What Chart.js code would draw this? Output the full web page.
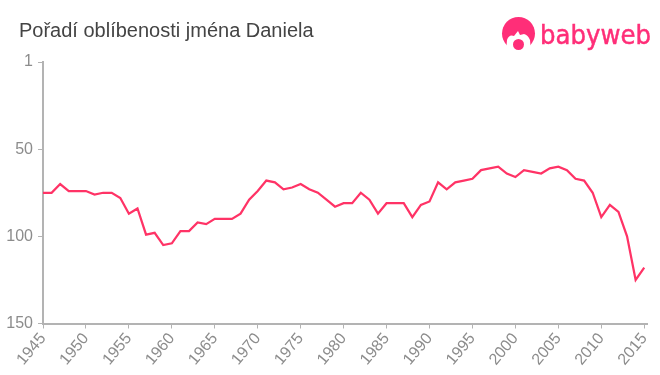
<!DOCTYPE html>
<html>
<head>
<meta charset="utf-8">
<style>
  html, body { margin: 0; padding: 0; background: #fff; }
  #wrap { position: relative; width: 660px; height: 375px; overflow: hidden; }
  #logo { position: absolute; left: 0; top: 0; }
  #title { position: absolute; left: 19px; top: 18px; font: 20px/24px "Liberation Sans", sans-serif; color: #444; white-space: nowrap; }
</style>
</head>
<body>
<div id="wrap">
  <canvas id="rankChart" width="660" height="375"></canvas>
  <div id="title">Pořadí oblíbenosti jména Daniela</div>
  <svg id="logo" width="660" height="60">
    <circle cx="518.5" cy="33.5" r="16.5" fill="#ff2e78"/>
    <path d="M506 52 L507 40 Q509 34 514 36 L518 31 L520 35 L524 34 Q528 35 530 40 L531 52 Z" fill="#fff"/>
    <circle cx="518.5" cy="44.5" r="5.5" fill="#ff2e78"/>
    <text x="540" y="43.5" font-family="DejaVu Sans" font-size="27" fill="#ff2e78" stroke="#ff2e78" stroke-width="0.5" textLength="111" lengthAdjust="spacingAndGlyphs">babyweb</text>
  </svg>
</div>
<script src="https://cdn.jsdelivr.net/npm/chart.js@4"></script>
<script>
const years = [];
for (let y = 1945; y <= 2015; y++) years.push(y);

// rank, 1945-2015
const ranks = [
  75, 75, 70, 74, 74, 74, 76, 75, 75, 78,
  87, 84, 99, 98, 105, 104, 97, 97, 92, 93,
  90, 90, 90, 87, 79, 74, 68, 69, 73, 72,
  70, 73, 75, 79, 83, 81, 81, 75, 79, 87,
  81, 81, 81, 89, 82, 80, 69, 73, 69, 68,
  67, 62, 61, 60, 64, 66, 62, 63, 64, 61,
  60, 62, 67, 68, 75, 89, 82, 86, 100, 125,
  118
];

const axisColor = '#b3b3b3';
const tickColor = '#8c8c8c';

new Chart(document.getElementById('rankChart').getContext('2d'), {
  type: 'line',
  data: {
    datasets: [{
      data: years.map((y, i) => ({ x: y, y: ranks[i] })),
      borderColor: '#ff3366',
      borderWidth: 2.25,
      pointRadius: 0,
      tension: 0,
      fill: false
    }]
  },
  options: {
    responsive: false,
    animation: false,
    layout: { padding: { left: 0, right: 11, top: 62, bottom: 0 } },
    plugins: {
      legend: { display: false },
      tooltip: { enabled: false }
    },
    scales: {
      x: {
        type: 'linear',
        min: 1945,
        max: 2015.4,
        afterFit: s => { s.height = 51.5; },
        border: { color: axisColor, width: 2 },
        grid: { drawOnChartArea: false, color: axisColor, tickLength: 5 },
        ticks: {
          stepSize: 5,
          includeBounds: false,
          minRotation: 50,
          maxRotation: 50,
          color: tickColor,
          padding: 1,
          font: { family: 'Liberation Sans', size: 16 },
          callback: v => String(v)
        }
      },
      y: {
        reverse: true,
        min: 0,
        max: 150,
        afterFit: s => { s.width = 43; },
        border: { color: axisColor, width: 2 },
        grid: { drawOnChartArea: false, color: axisColor, tickLength: 5 },
        ticks: {
          stepSize: 50,
          color: tickColor,
          padding: 5,
          font: { family: 'Liberation Sans', size: 16 },
          callback: v => (v === 0 ? '1' : String(v))
        }
      }
    }
  }
});
</script>
</body>
</html>
